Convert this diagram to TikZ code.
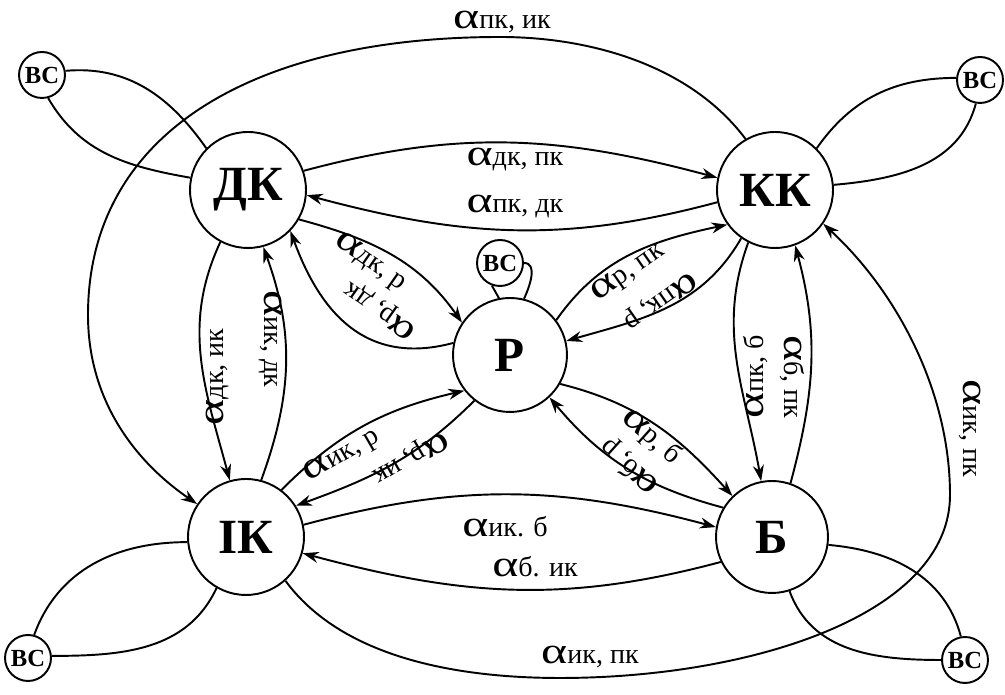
\documentclass[tikz,border=0pt]{standalone}
\usepackage{fontspec}
\setmainfont{Liberation Serif}
\usetikzlibrary{arrows.meta}

\newcommand{\alab}[1]{{\fontsize{21}{21}\selectfont\scalebox{1.35}[1]{α}}{\fontsize{16}{16}\selectfont #1}}

\begin{document}
\begin{tikzpicture}[
    x=0.02cm, y=0.02cm,
    line width=1.1pt,
    state/.style={circle, draw, minimum size=2.32cm, inner sep=0pt, font=\fontsize{28}{30}\selectfont\bfseries},
    vsbox/.style={circle, draw, minimum size=0.92cm, inner sep=0pt, font=\fontsize{14}{15}\selectfont\bfseries},
    trans/.style={-{Stealth[length=0.32cm, width=0.22cm]}},
    lab/.style={inner sep=0pt}
]
\useasboundingbox (0,0) rectangle (1005,695);

    % --- States ---
    \node[state] (dk) at (248,505) {ДК};
    \node[state] (kk) at (775,505) {КК};
    \node[state, minimum size=2.28cm] (p) at (510,340) {Р};
    \node[state] (ik) at (246,158) {ІК};
    \node[state, minimum size=2.24cm] (b) at (772,158) {Б};

    % --- ВС nodes ---
    \node[vsbox] (vs1) at (42,620) {ВС};
    \node[vsbox] (vs2) at (980,615) {ВС};
    \node[vsbox] (vs3) at (500,432) {ВС};
    \node[vsbox] (vs4) at (28,37) {ВС};
    \node[vsbox] (vs5) at (965,35) {ВС};

    % --- Horizontal pairs ---
    \draw[trans] (dk.19) to[out=15, in=165] (kk.168);
    \draw[trans] (kk.192) to[out=195, in=-15] (dk.-5);
    \draw[trans] (ik.12) to[out=15, in=165] (b.170);
    \draw[trans] (b.206) to[out=195, in=-15] (ik.-16);

    % --- Vertical pairs ---
    \draw[trans] (dk.242) to[out=245, in=105] (ik.106);
    \draw[trans] (ik.75) to[out=70, in=-70] (dk.-75);
    \draw[trans] (kk.243) to[out=250, in=100] (b.101);
    \draw[trans] (b.71) to[out=75, in=-75] (kk.-70);

    % --- Diagonal pairs ---
    \draw[trans] (dk.-30) to[out=-15, in=125] (p.146);
    \draw[trans] (p.168) to[out=195, in=-70, looseness=1.15] (dk.-44);
    \draw[trans] (p.37) to[out=55, in=192] (kk.216);
    \draw[trans] (kk.235) to[out=240, in=16] (p.14);
    \draw[trans] (ik.53) to[out=45, in=193] (p.218);
    \draw[trans] (p.232) to[out=225, in=20] (ik.32);
    \draw[trans] (p.-30) to[out=-14, in=132] (b.134);
    \draw[trans] (b.149) to[out=165, in=-50] (p.-47);

    % --- Long arcs ---
    \draw[trans] (kk.120) .. controls (690,630) and (590,658) .. (500,658)
        .. controls (250,658) and (88,560) .. (88,380)
        .. controls (88,290) and (140,230) .. (ik.146);
    \draw[trans] (ik.-48) .. controls (340,40) and (450,17) .. (560,17)
        .. controls (750,17) and (950,80) .. (950,200)
        .. controls (950,300) and (900,400) .. (kk.-35);

    % --- ВС loops ---
    \draw (vs1.10) to[out=5, in=125] (dk.135);
    \draw (vs1.-75) to[out=-60, in=170] (dk.168);
    \draw (vs2.175) to[out=180, in=55] (kk.45);
    \draw (vs2.-100) to[out=-105, in=5] (kk.5);
    \draw (vs4.75) to[out=70, in=180] (ik.185);
    \draw (vs4.5) to[out=0, in=245] (ik.240);
    \draw (vs5.100) to[out=105, in=-5] (b.-8);
    \draw (vs5.180) to[out=180, in=-70] (b.-72);
    \draw (vs3.-110) -- (p.101);
    \draw (vs3.0) to[out=0, in=65] (p.76);

    % --- Labels ---
    \node[lab] (l-dkkk) at (515,535) {\alab{дк, пк}};
    \node[lab] (l-kkdk) at (515,488) {\alab{пк, дк}};
    \node[lab] (l-ikb) at (505,168) {\alab{ик. б}};
    \node[lab] (l-bik) at (535,128) {\alab{б. ик}};
    \node[lab] (l-top) at (502,673) {\alab{пк, ик}};
    \node[lab] (l-bot) at (590,38) {\alab{ик, пк}};
    \node[lab, rotate=-90] (l-right) at (970,267) {\alab{ик, пк}};
    \node[lab, rotate=90] (l-dkik) at (218,318) {\alab{дк, ик}};
    \node[lab, rotate=-90] (l-ikdk) at (270,356) {\alab{ик, дк}};
    \node[lab, rotate=90] (l-kkb) at (756,318) {\alab{пк, б}};
    \node[lab, rotate=-90] (l-bkk) at (792,318) {\alab{б, пк}};
    \node[lab, rotate=-35] (l-dkp) at (370,433) {\alab{дк, р}};
    \node[lab, rotate=145] (l-pdk) at (381,385) {\alab{р, дк}};
    \node[lab, rotate=35] (l-pkk) at (628,422) {\alab{р, пк}};
    \node[lab, rotate=215] (l-kkp) at (660,395) {\alab{пк, р}};
    \node[lab, rotate=30] (l-ikp) at (342,239) {\alab{ик, р}};
    \node[lab, rotate=210] (l-pik) at (410,238) {\alab{р, ик}};
    \node[lab, rotate=-42] (l-pb) at (651,258) {\alab{р, б}};
    \node[lab, rotate=138] (l-bp) at (630,229) {\alab{б, р}};

\end{tikzpicture}
\end{document}
